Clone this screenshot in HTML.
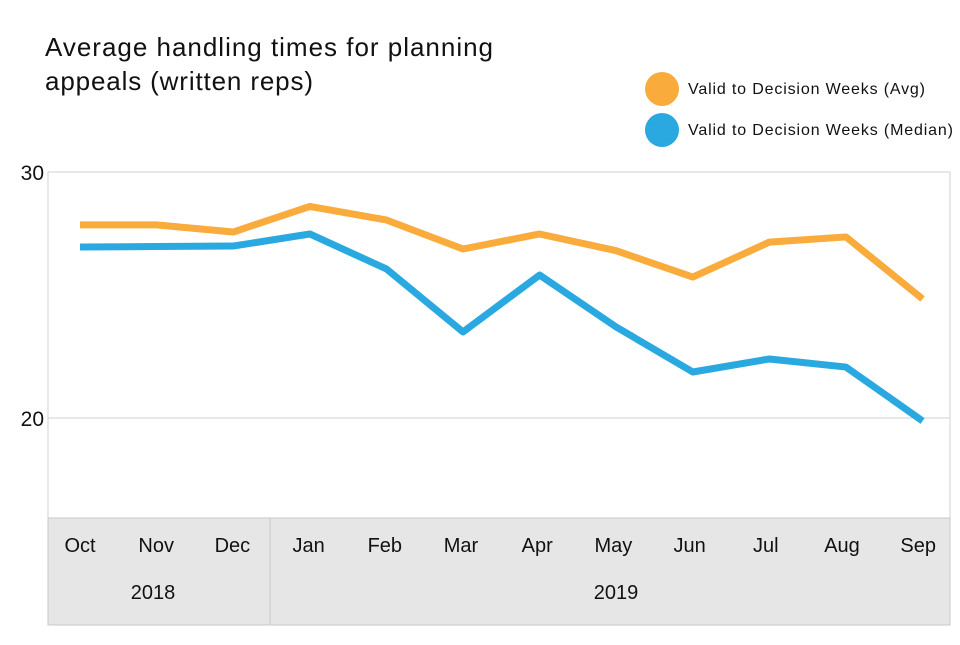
<!DOCTYPE html>
<html><head><meta charset="utf-8"><style>
body{margin:0;background:#fff;font-family:"Liberation Sans",sans-serif}
svg text{font-family:"Liberation Sans",sans-serif}
</style></head><body>
<svg id="chart" width="960" height="640">
<text x="45" y="56" font-size="26" textLength="448" fill="#111">Average handling times for planning</text>
<text x="45" y="90" font-size="26" textLength="268" fill="#111">appeals (written reps)</text>
<g>
<circle cx="662" cy="89" r="17" fill="#f9ab3b"/>
<text x="688" y="94" font-size="16" textLength="237" fill="#111">Valid to Decision Weeks (Avg)</text>
<circle cx="662" cy="130" r="17" fill="#2aa9e0"/>
<text x="688" y="135" font-size="16" textLength="265" fill="#111">Valid to Decision Weeks (Median)</text>
</g>
<g id="plot"></g>
</svg>
<script>
const categories=["Oct","Nov","Dec","Jan","Feb","Mar","Apr","May","Jun","Jul","Aug","Sep"];
const years=["2018","2019"];
const avgValues=[27.85,27.85,27.56,28.6,28.05,26.87,27.48,26.8,25.73,27.15,27.36,24.84];
const medianValues=[26.95,26.97,26.99,27.48,26.06,23.5,25.81,23.7,21.87,22.4,22.07,19.88];
const yTicks=[20,30];
const NS="http://www.w3.org/2000/svg";
const g=document.getElementById('plot');
const L=48,R=950,T=172,B=518;
const y=v=>418-(v-20)*24.6;
const x=i=>80+i*76.6;
function mk(t,a){const e=document.createElementNS(NS,t);for(const k in a)e.setAttribute(k,a[k]);g.appendChild(e);return e;}
let r=mk('rect',{x:L,y:T,width:R-L,height:B-T,fill:'#fff',stroke:'#d0d0d0'});


yTicks.forEach(v=>{
 let l=mk('line',{x1:L,x2:R,y1:y(v),y2:y(v),stroke:'#d0d0d0'});
 
 
 let t=mk('text',{x:L-4,y:y(v)+8,'font-size':21,'text-anchor':'end',fill:'#111'});t.textContent=v;
 
 
});
let band=mk('rect',{x:L,y:B,width:R-L,height:107,fill:'#e6e6e6',stroke:'#c8c8c8'});


let sep=mk('line',{x1:270,x2:270,y1:B,y2:625,stroke:'#c8c8c8'});


categories.forEach((c,i)=>{
 let t=mk('text',{x:80+i*76.2,y:552,'font-size':20,'text-anchor':'middle',fill:'#111'});t.textContent=c;
 
 
});
[[153],[616]].forEach((p,i)=>{
 let t=mk('text',{x:p[0],y:599,'font-size':20,'text-anchor':'middle',fill:'#111'});t.textContent=years[i];
 
 
});
function series(vals,color,name){
 let p=mk('polyline',{points:vals.map((v,i)=>x(i)+','+y(v)).join(' '),fill:'none',stroke:color,'stroke-width':7,'stroke-linejoin':'round'});
 
 
}
series(avgValues,'#f9ab3b','avg-line');
series(medianValues,'#2aa9e0','median-line');
</script>
</body></html>
